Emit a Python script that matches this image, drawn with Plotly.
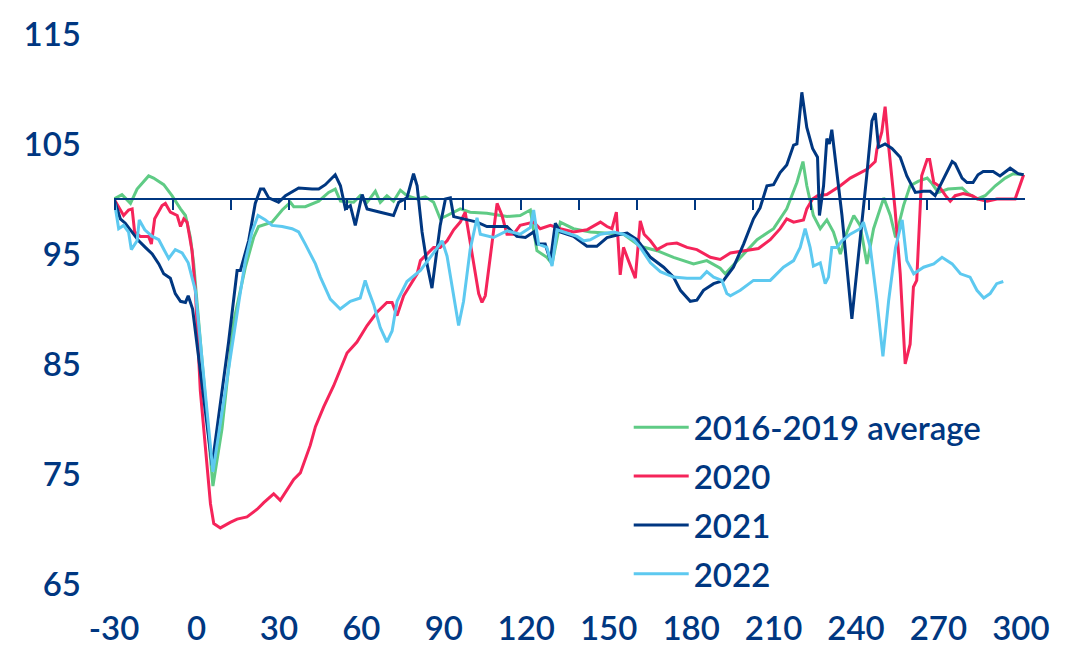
import plotly.graph_objects as go

# ---- data (day offset vs. index, 100 = baseline) ----
avg_days = [-30, -27.1, -24.0, -21.6, -17.4, -15.6, -11.9, -8.9, -5.8, -4.0, -2.2, -1.0, 6.0, 9.3, 13.5,
            17.8, 20.8, 22.6, 27.5, 31.2, 34.2, 35.4, 39.6, 44.5, 48.1, 50.5, 52.4, 57.2, 59.6, 62.1,
            65.1, 66.9, 69.3, 71.7, 74.2, 76.6, 80.3, 83.3, 86.3, 88.7, 91.2, 96.0, 99.6, 105.7, 113.0,
            117.8, 121.5, 123.9, 127.5, 129.4, 132.4, 137.2, 143.3, 149.4, 155.4, 161.5, 167.6, 173.6,
            180.9, 185.7, 190.6, 192.4, 197.9, 204.0, 210.0, 214.8, 218.5, 220.7, 222.1, 224.5, 227.0,
            229.4, 231.8, 234.3, 236.7, 239.2, 241.5, 244.0, 246.4, 250.1, 252.5, 254.4, 257.3, 259.7,
            262.6, 265.9, 267.7, 269.9, 273.5, 278.6, 280.8, 284.1, 287.0, 290.7, 294.3, 297.2, 301.0]
avg_vals = [100.0, 100.4, 99.6, 100.9, 102.1, 101.9, 101.3, 100.3, 99.1, 98.5, 96.5, 94.1, 73.9, 79.1, 88.8,
            93.8, 96.5, 97.5, 97.9, 99.0, 99.7, 99.3, 99.3, 99.8, 100.6, 100.9, 99.8, 99.7, 100.3, 99.7,
            100.7, 99.7, 100.3, 99.8, 100.8, 100.3, 100.0, 100.2, 99.7, 98.2, 98.5, 99.1, 98.8, 98.7, 98.4,
            98.5, 99.0, 95.3, 94.7, 94.1, 97.9, 97.3, 97.0, 96.9, 96.8, 95.7, 95.3, 94.7,
            94.1, 94.4, 93.7, 93.2, 94.7, 96.3, 97.3, 99.1, 101.5, 103.4, 101.2, 98.5, 97.3,
            98.1, 97.0, 95.0, 97.0, 98.5, 97.6, 94.1, 97.3, 100.1, 98.5, 96.5, 99.4, 101.2,
            101.6, 101.9, 101.4, 100.6, 100.9, 101.0, 100.5, 100.0, 100.3, 101.2, 101.9, 102.3, 102.2]

y2020_days = [-30, -26.5, -24.7, -23.4, -22.5, -20.4, -17.4, -16.4, -15.2, -12.5, -11.3, -9.5, -7.0, -5.8,
              -4.6, -3.4, -1.6, -0.4, 1.4, 3.9, 5.1, 6.3, 8.7, 12.3, 14.8, 18.4, 22.1, 24.5, 28.1, 30.5,
              35.4, 37.8, 41.4, 43.3, 46.3, 49.9, 54.8, 58.4, 62.1, 65.7, 69.3, 71.2, 73.0, 75.4, 80.3,
              81.5, 86.3, 88.7, 91.2, 93.6, 96.0, 97.8, 99.0, 100.8, 102.7, 103.9, 105.1, 106.9, 108.1,
              109.4, 111.2, 113.0, 115.4, 117.8, 122.7, 125.1, 128.8, 132.4, 137.2, 142.1, 147.0, 149.4,
              151.2, 152.8, 154.2, 155.4, 157.2, 159.7, 161.5, 162.9, 165.2, 167.6, 171.2, 174.8, 178.5,
              182.1, 187.0, 190.6, 194.3, 199.1, 204.5, 208.8, 212.4, 214.8, 217.3, 220.9, 222.1, 224.2,
              226.0, 229.4, 234.3, 237.9, 241.5, 244.0, 247.0, 247.6, 249.4, 250.6, 251.8, 254.2, 256.1,
              257.9, 259.7, 260.9, 262.1, 263.9, 265.9, 266.8, 268.3, 270.1, 272.6, 274.3, 276.1, 279.0,
              282.3, 284.4, 287.7, 291.3, 297.9, 301.0]
y2020_vals = [100.0, 98.5, 99.0, 99.1, 97.0, 96.6, 96.6, 95.9, 98.2, 99.4, 99.6, 98.8, 98.5, 97.5,
              98.2, 97.9, 95.3, 91.7, 82.6, 75.2, 72.3, 70.5, 70.1, 70.6, 70.9, 71.1, 71.8, 72.4, 73.2, 72.6,
              74.5, 75.1, 77.6, 79.3, 81.1, 83.0, 86.0, 87.0, 88.5, 89.7, 90.6, 90.6, 89.4, 91.2, 93.2,
              94.4, 95.6, 95.6, 96.2, 97.2, 97.9, 98.8, 97.0, 94.1, 91.4, 90.6, 91.2, 94.7, 97.0,
              99.6, 98.5, 96.8, 96.8, 97.6, 97.9, 97.3, 97.6, 97.3, 97.0, 97.2, 97.9, 97.5,
              97.3, 98.8, 93.1, 95.6, 94.4, 92.8, 98.0, 96.8, 96.2, 95.4, 95.9, 96.0, 95.6,
              95.4, 94.7, 94.5, 95.1, 95.3, 95.5, 96.3, 97.3, 98.2, 97.9, 98.1, 99.1, 100.0,
              100.3, 100.4, 101.2, 101.9, 102.4, 102.7, 103.4, 104.5, 106.1, 108.4, 105.0, 99.1, 93.2,
              85.0, 86.8, 92.0, 92.6, 102.1, 103.6, 103.6, 101.5, 101.2, 100.3, 99.8, 100.3, 100.5,
              100.3, 100.0, 99.8, 100.0, 100.0, 102.2]

y2021_days = [-30, -27.7, -25.9, -23.4, -21.0, -18.6, -16.1, -13.7, -11.9, -9.5, -7.7, -5.8, -4.0, -3.0,
              -1.4, 5.7, 11.7, 14.8, 16.0, 19.0, 21.4, 23.3, 24.5, 26.3, 29.9, 32.4, 37.2, 42.1, 44.5,
              46.9, 50.5, 52.4, 54.2, 56.0, 57.8, 60.3, 62.1, 66.9, 71.7, 73.6, 76.6, 79.0, 80.3, 82.1,
              83.9, 85.7, 86.9, 88.7, 90.6, 92.4, 93.6, 97.2, 102.1, 105.7, 113.0, 116.6, 119.7, 122.7,
              123.9, 126.9, 128.8, 130.6, 132.4, 137.2, 142.1, 145.7, 149.4, 154.2, 156.7, 160.3, 165.2,
              170.0, 173.6, 176.1, 179.7, 182.1, 184.5, 188.2, 191.8, 195.4, 199.1, 202.7, 205.1, 207.6,
              210.0, 212.4, 214.8, 217.3, 218.5, 220.3, 222.1, 224.2, 226.0, 226.7, 228.2, 229.4, 230.3,
              231.2, 233.0, 234.9, 238.5, 241.5, 243.9, 245.8, 247.0, 248.2, 250.6, 253.1, 256.1, 258.5,
              261.6, 264.5, 267.0, 268.8, 271.7, 275.0, 276.1, 278.6, 280.4, 282.6, 284.4, 286.3, 289.9,
              292.4, 296.1, 299.0, 301.0]
y2021_vals = [100.0, 98.2, 97.8, 97.0, 96.2, 95.6, 95.0, 94.1, 93.2, 92.8, 91.4, 90.7, 90.6, 91.2,
              90.0, 75.8, 87.0, 93.5, 93.5, 96.2, 99.6, 100.9, 100.9, 100.1, 99.7, 100.3, 101.0, 100.9, 100.9,
              101.3, 102.2, 101.2, 99.1, 99.4, 97.6, 100.4, 99.1, 98.8, 98.5, 99.7, 100.1, 102.3, 101.2, 97.0,
              94.1, 91.9, 94.4, 97.6, 100.0, 100.1, 98.4, 98.2, 97.9, 97.5, 97.5, 96.6, 96.5, 97.0,
              95.9, 95.9, 94.4, 97.8, 97.0, 96.6, 95.7, 95.7, 96.5, 96.8, 96.9, 96.3, 94.7,
              93.8, 92.9, 91.7, 90.7, 90.8, 91.7, 92.3, 92.6, 93.8, 95.9, 98.2, 99.2, 101.2,
              101.3, 102.4, 103.1, 104.9, 105.0, 109.7, 106.5, 104.6, 103.8, 98.5, 101.2, 105.5, 105.0,
              106.3, 102.7, 98.5, 89.1, 96.2, 102.1, 107.1, 107.8, 104.7, 105.0, 104.6, 103.8, 102.1,
              100.6, 100.7, 100.7, 100.3, 101.8, 103.4, 103.2, 101.9, 101.5, 101.5, 102.2, 102.5, 102.5,
              102.1, 102.8, 102.3, 102.2]

y2022_days = [-30, -28.3, -26.5, -24.7, -23.7, -21.6, -20.8, -18.8, -16.1, -13.7, -11.6, -10.1, -7.7, -5.2,
              -3.0, -0.4, 6.0, 13.0, 15.4, 17.8, 20.2, 22.4, 25.1, 27.5, 31.2, 34.8, 37.2, 39.6, 43.3,
              45.1, 48.7, 52.3, 56.0, 59.6, 61.4, 62.7, 64.5, 66.9, 69.3, 71.2, 73.0, 76.6, 81.5, 86.3,
              89.4, 91.2, 93.6, 95.4, 97.2, 99.6, 102.1, 103.3, 108.1, 113.0, 117.8, 121.5, 122.7, 124.5,
              127.5, 129.4, 131.2, 134.8, 138.5, 140.9, 143.3, 147.0, 151.8, 155.4, 159.1, 161.5, 165.2,
              168.8, 173.6, 178.5, 183.4, 185.7, 188.2, 191.2, 193.0, 194.3, 197.9, 202.7, 208.8, 210.0,
              213.6, 217.3, 219.7, 221.5, 223.3, 224.5, 227.0, 228.8, 230.0, 231.2, 233.0, 234.9, 237.9,
              241.5, 242.7, 245.2, 247.6, 249.8, 251.9, 254.4, 256.8, 258.5, 261.0, 264.6, 268.3, 271.3,
              275.0, 278.0, 281.5, 284.0, 286.5, 288.8, 291.2, 293.6]
y2022_vals = [100.0, 97.3, 97.6, 97.0, 95.4, 96.2, 98.1, 97.2, 96.6, 96.3, 95.3, 94.6, 95.4, 95.1,
              94.2, 91.7, 75.2, 87.0, 90.6, 94.4, 97.0, 98.5, 98.1, 97.6, 97.5, 97.3, 97.0, 95.9, 94.1,
              92.9, 90.9, 90.0, 90.7, 91.0, 92.6, 91.6, 90.4, 88.3, 87.0, 88.0, 90.7, 92.5, 93.5, 95.1,
              96.2, 94.8, 91.0, 88.5, 90.7, 95.4, 98.3, 96.8, 96.5, 97.1, 96.8, 97.4, 99.0, 95.9,
              95.6, 93.9, 97.2, 96.9, 96.6, 96.2, 96.3, 96.8, 97.0, 96.8, 96.3, 95.6, 94.2,
              93.4, 92.9, 92.8, 92.8, 93.4, 92.9, 92.6, 91.4, 91.2, 91.7, 92.6, 92.6, 92.9,
              93.8, 94.4, 95.6, 97.3, 95.6, 93.9, 94.2, 92.3, 92.9, 95.6, 95.6, 96.2, 96.8,
              97.3, 97.9, 95.6, 90.8, 85.7, 90.8, 95.6, 98.1, 94.4, 93.2, 93.8, 94.1, 94.7,
              94.1, 93.2, 92.9, 91.7, 91.0, 91.4, 92.3, 92.5]

x_ticks = [-30, 0, 30, 60, 90, 120, 150, 180, 210, 240, 270, 300]
x_tick_text = [str(v) for v in x_ticks]
y_ticks = [65, 75, 85, 95, 105, 115]

NAVY = "#003781"
series = [
    ("2016-2019 average", avg_days, avg_vals, "#5fcb85", "x"),
    ("2020", y2020_days, y2020_vals, "#f5245a", "x"),
    ("2021", y2021_days, y2021_vals, NAVY, "x"),
    ("2022", y2022_days, y2022_vals, "#5dc9f0", "x2"),
]

fig = go.Figure()
for name, xs, ys, col, xa in series:
    fig.add_trace(go.Scatter(x=xs, y=ys, mode="lines", name=name, legendgroup=name,
                             xaxis=xa, yaxis="y",
                             line=dict(color=col, width=3)))

FONT = "Lato"
fig.update_layout(
    width=1075, height=659,
    margin=dict(l=114, r=50, t=34, b=60),
    paper_bgcolor="white", plot_bgcolor="white",
    font=dict(family=FONT, color=NAVY, size=33, weight=600),
    showlegend=True,
    legend=dict(x=0.565, xanchor="left", y=0.336, yanchor="top",
                bgcolor="rgba(0,0,0,0)", font=dict(size=33, color=NAVY, family=FONT, weight=600),
                traceorder="grouped", tracegroupgap=3, itemwidth=55),
    xaxis=dict(range=[-30, 301.5], tickmode="array", tickvals=x_ticks, ticktext=x_tick_text,
               showgrid=False, zeroline=False, showline=False, ticks="",
               ticklabelstandoff=22,
               tickfont=dict(size=33, color=NAVY, family=FONT, weight=600)),
    xaxis2=dict(overlaying="x", matches="x", anchor="free", position=0.7, side="bottom",
                showline=True, linecolor=NAVY, linewidth=2,
                ticks="outside", ticklen=10, tickwidth=2, tickcolor=NAVY,
                tickmode="linear", tick0=-29.5, dtick=21.1,
                showticklabels=False, showgrid=False, zeroline=False),
    yaxis=dict(range=[65, 115], tickmode="array", tickvals=y_ticks,
               showgrid=False, zeroline=False, showline=False, ticks="",
               ticklabelstandoff=32,
               tickfont=dict(size=33, color=NAVY, family=FONT, weight=600)),
)

fig.write_html("out.html", config={"displayModeBar": False},
               post_script="document.body.style.margin='0';")
